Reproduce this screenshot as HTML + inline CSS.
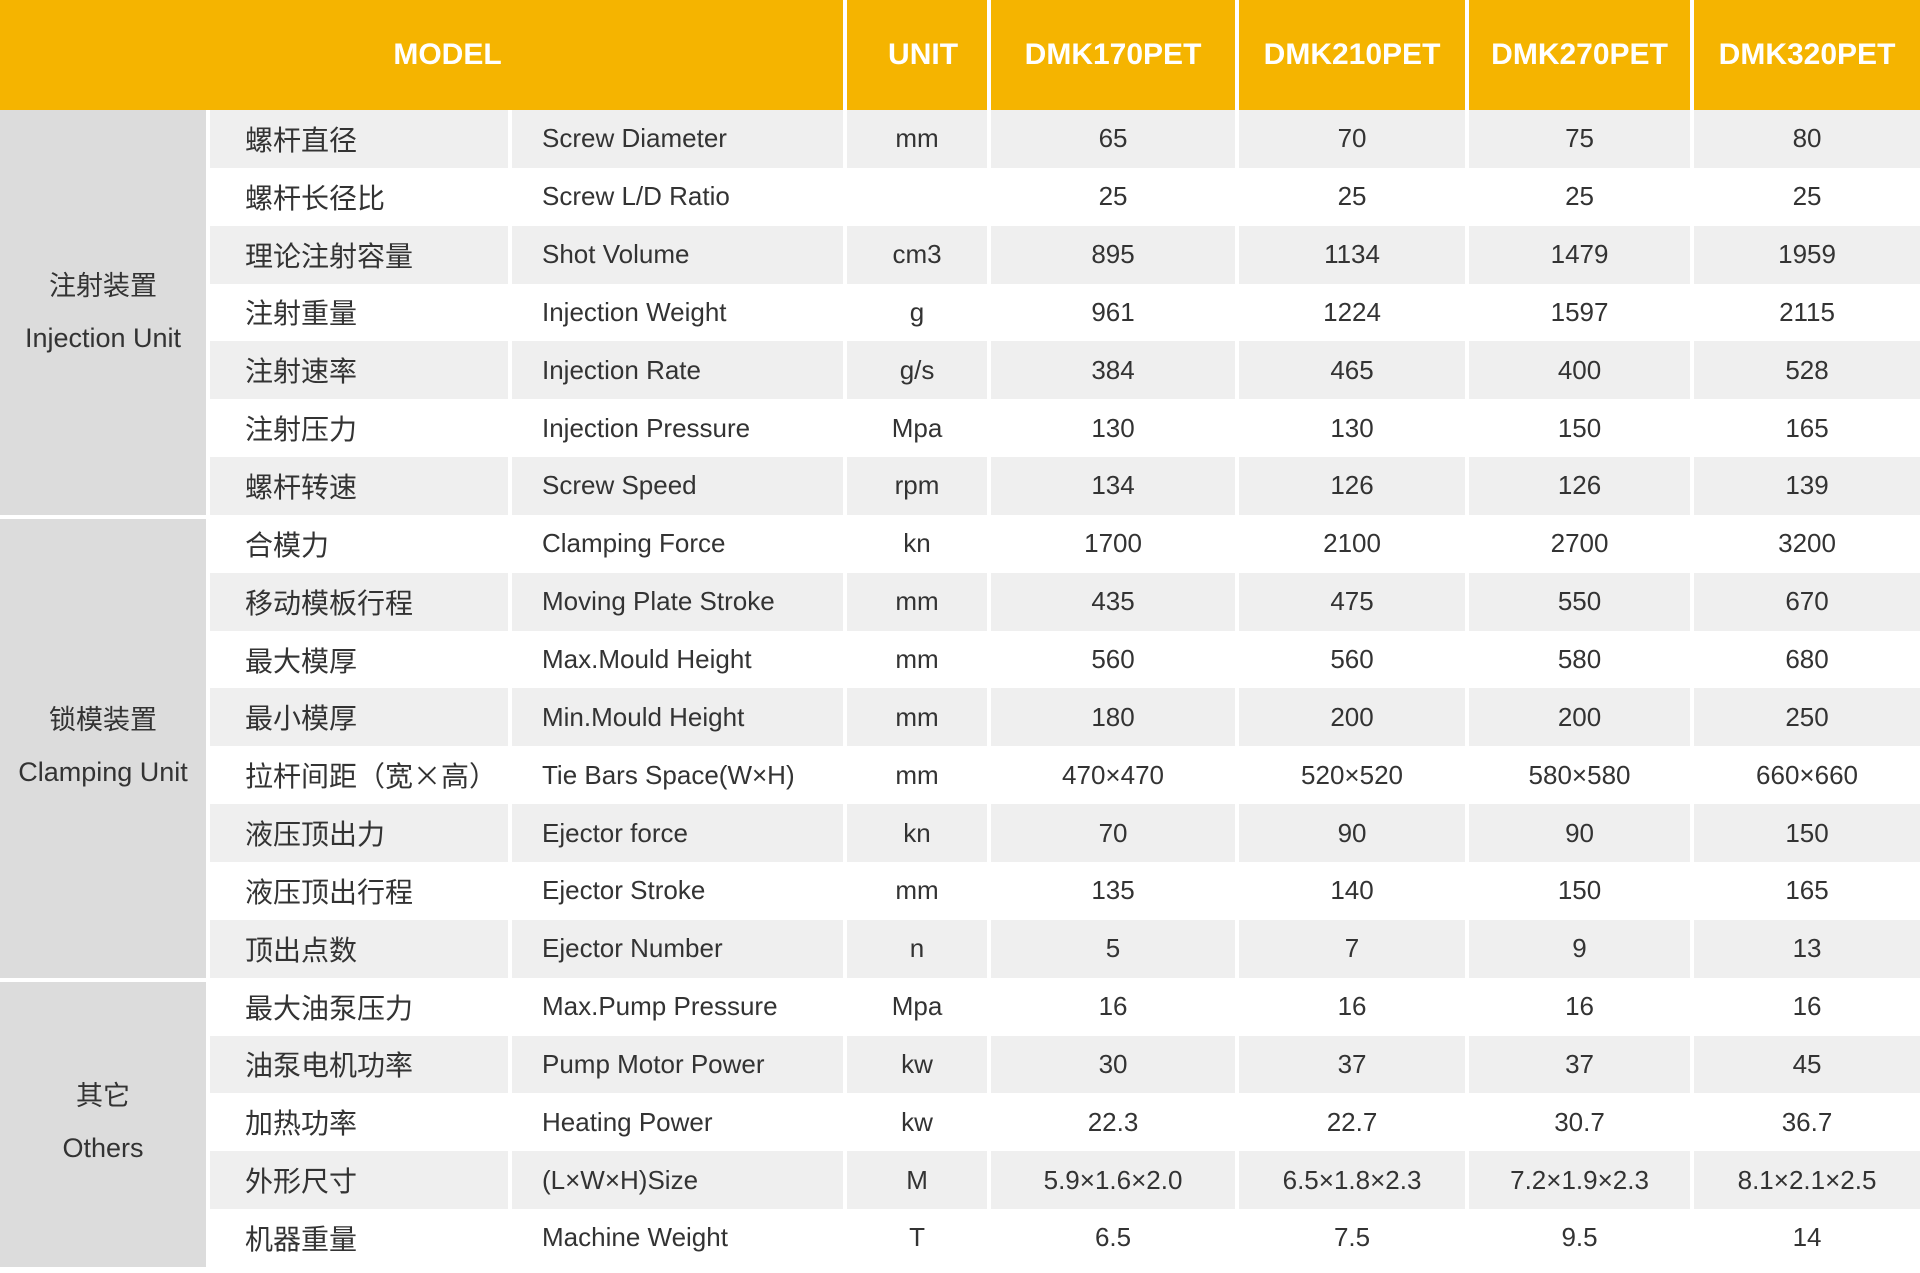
<!DOCTYPE html>
<html><head><meta charset="utf-8"><style>
html,body{margin:0;padding:0;width:1920px;height:1273px;overflow:hidden;background:#fff}
table{border-collapse:separate;border-spacing:4px 0;margin-left:-4px;width:1928px;table-layout:fixed;font-family:"Liberation Sans","Noto Sans CJK SC",sans-serif;color:#333}
td{padding:0;height:57.85px;font-size:26px;text-align:center;vertical-align:middle;white-space:nowrap;overflow:hidden}
tr.h td{height:110px;background:#f5b400;color:#fff;font-weight:bold;font-size:30px}
tr.h td.m{padding-left:52px}
tr.h td.u{padding-left:12px}
tr.g td.d{background:#efefef}
td.grp{background:#dcdcdc;font-size:27px;line-height:52px;box-shadow:inset 0 4px 0 #fff}
td.grp.first{box-shadow:none}
td.cn{text-align:left;padding-left:35px;font-size:28px;font-family:"Noto Sans CJK SC","Liberation Sans",sans-serif}
td.en{text-align:left;padding-left:30px}
</style></head><body>
<table>
<colgroup><col style="width:206px"><col style="width:298px"><col style="width:331px"><col style="width:140px"><col style="width:244px"><col style="width:226px"><col style="width:221px"><col style="width:226px"></colgroup>
<tr class="h"><td class="m" colspan="3">MODEL</td><td class="u">UNIT</td><td>DMK170PET</td><td>DMK210PET</td><td>DMK270PET</td><td>DMK320PET</td></tr>
<tr class="g"><td class="grp first" rowspan="7">注射装置<br>Injection Unit</td><td class="cn d">螺杆直径</td><td class="en d">Screw Diameter</td><td class="d">mm</td><td class="d">65</td><td class="d">70</td><td class="d">75</td><td class="d">80</td></tr>
<tr><td class="cn d">螺杆长径比</td><td class="en d">Screw L/D Ratio</td><td class="d"></td><td class="d">25</td><td class="d">25</td><td class="d">25</td><td class="d">25</td></tr>
<tr class="g"><td class="cn d">理论注射容量</td><td class="en d">Shot Volume</td><td class="d">cm3</td><td class="d">895</td><td class="d">1134</td><td class="d">1479</td><td class="d">1959</td></tr>
<tr><td class="cn d">注射重量</td><td class="en d">Injection Weight</td><td class="d">g</td><td class="d">961</td><td class="d">1224</td><td class="d">1597</td><td class="d">2115</td></tr>
<tr class="g"><td class="cn d">注射速率</td><td class="en d">Injection Rate</td><td class="d">g/s</td><td class="d">384</td><td class="d">465</td><td class="d">400</td><td class="d">528</td></tr>
<tr><td class="cn d">注射压力</td><td class="en d">Injection Pressure</td><td class="d">Mpa</td><td class="d">130</td><td class="d">130</td><td class="d">150</td><td class="d">165</td></tr>
<tr class="g"><td class="cn d">螺杆转速</td><td class="en d">Screw Speed</td><td class="d">rpm</td><td class="d">134</td><td class="d">126</td><td class="d">126</td><td class="d">139</td></tr>
<tr><td class="grp" rowspan="8">锁模装置<br>Clamping Unit</td><td class="cn d">合模力</td><td class="en d">Clamping Force</td><td class="d">kn</td><td class="d">1700</td><td class="d">2100</td><td class="d">2700</td><td class="d">3200</td></tr>
<tr class="g"><td class="cn d">移动模板行程</td><td class="en d">Moving Plate Stroke</td><td class="d">mm</td><td class="d">435</td><td class="d">475</td><td class="d">550</td><td class="d">670</td></tr>
<tr><td class="cn d">最大模厚</td><td class="en d">Max.Mould Height</td><td class="d">mm</td><td class="d">560</td><td class="d">560</td><td class="d">580</td><td class="d">680</td></tr>
<tr class="g"><td class="cn d">最小模厚</td><td class="en d">Min.Mould Height</td><td class="d">mm</td><td class="d">180</td><td class="d">200</td><td class="d">200</td><td class="d">250</td></tr>
<tr><td class="cn d">拉杆间距（宽×高）</td><td class="en d">Tie Bars Space(W×H)</td><td class="d">mm</td><td class="d">470×470</td><td class="d">520×520</td><td class="d">580×580</td><td class="d">660×660</td></tr>
<tr class="g"><td class="cn d">液压顶出力</td><td class="en d">Ejector force</td><td class="d">kn</td><td class="d">70</td><td class="d">90</td><td class="d">90</td><td class="d">150</td></tr>
<tr><td class="cn d">液压顶出行程</td><td class="en d">Ejector Stroke</td><td class="d">mm</td><td class="d">135</td><td class="d">140</td><td class="d">150</td><td class="d">165</td></tr>
<tr class="g"><td class="cn d">顶出点数</td><td class="en d">Ejector Number</td><td class="d">n</td><td class="d">5</td><td class="d">7</td><td class="d">9</td><td class="d">13</td></tr>
<tr><td class="grp" rowspan="5">其它<br>Others</td><td class="cn d">最大油泵压力</td><td class="en d">Max.Pump Pressure</td><td class="d">Mpa</td><td class="d">16</td><td class="d">16</td><td class="d">16</td><td class="d">16</td></tr>
<tr class="g"><td class="cn d">油泵电机功率</td><td class="en d">Pump Motor Power</td><td class="d">kw</td><td class="d">30</td><td class="d">37</td><td class="d">37</td><td class="d">45</td></tr>
<tr><td class="cn d">加热功率</td><td class="en d">Heating Power</td><td class="d">kw</td><td class="d">22.3</td><td class="d">22.7</td><td class="d">30.7</td><td class="d">36.7</td></tr>
<tr class="g"><td class="cn d">外形尺寸</td><td class="en d">(L×W×H)Size</td><td class="d">M</td><td class="d">5.9×1.6×2.0</td><td class="d">6.5×1.8×2.3</td><td class="d">7.2×1.9×2.3</td><td class="d">8.1×2.1×2.5</td></tr>
<tr><td class="cn d">机器重量</td><td class="en d">Machine Weight</td><td class="d">T</td><td class="d">6.5</td><td class="d">7.5</td><td class="d">9.5</td><td class="d">14</td></tr>
</table>
</body></html>
